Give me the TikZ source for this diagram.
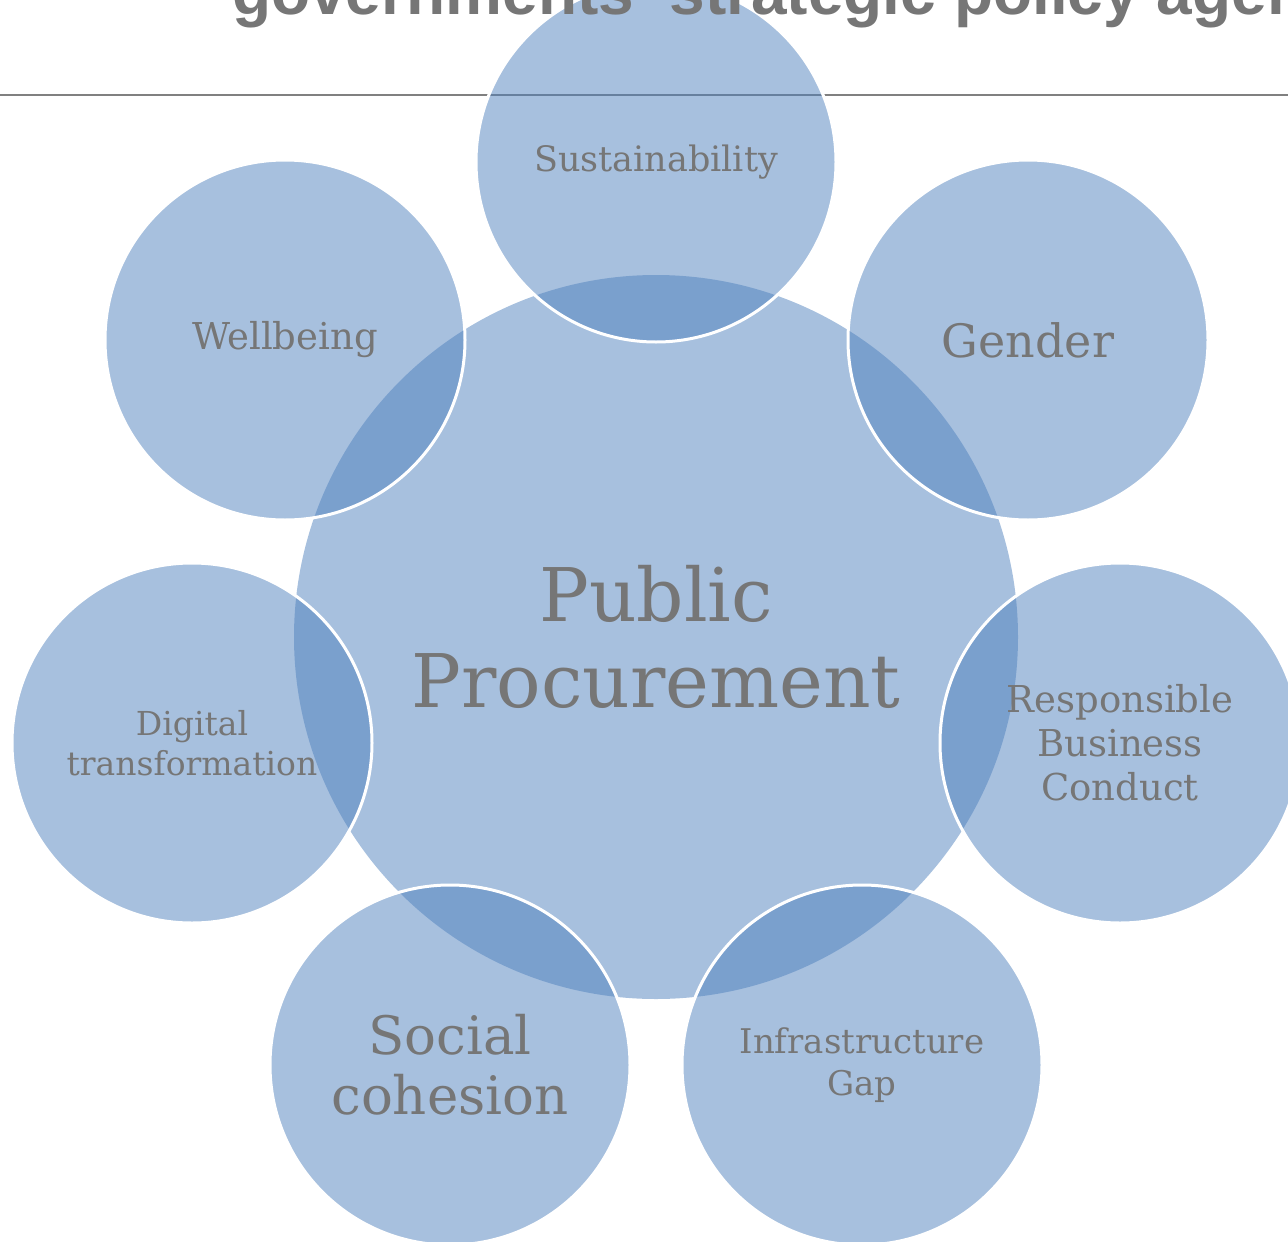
\documentclass[tikz,border=0pt]{standalone}
\usepackage{fontspec}
\setmainfont{DejaVu Serif}
\newfontfamily\titlefont{Liberation Sans}
\definecolor{ppblue}{HTML}{4F81BD}
\definecolor{ppgray}{HTML}{767676}
\definecolor{rulegray}{HTML}{808080}

\tikzset{
  hub/.style={circle,minimum size=724pt,inner sep=0pt,fill=ppblue,fill opacity=.5,
    text opacity=1,text=ppgray,align=center},
  spoke/.style={circle,minimum size=360pt,inner sep=0pt,fill=ppblue,fill opacity=.5,
    draw=white,draw opacity=1,line width=3pt,text opacity=1,text=ppgray,align=center},
  heading/.style={anchor=base west,inner sep=0pt,text=ppgray,
    font=\titlefont\bfseries\fontsize{64}{64}\selectfont}
}

\begin{document}
\begin{tikzpicture}[x=1pt,y=-1pt]
\useasboundingbox (0,0) rectangle (1288,1242);
\clip (0,0) rectangle (1288,1242);
\draw [rulegray,line width=2pt] (0,95) -- (1288,95);
\node[hub,font=\fontsize{74}{86}\selectfont] (hub) at (656,637) {Public\\Procurement};
\node[spoke,font=\fontsize{35}{42}\selectfont] (sust) at (656,162) {Sustainability};
\node[spoke,font=\fontsize{46}{54}\selectfont] (gender) at (1028,340) {Gender};
\node[spoke,font=\fontsize{37}{44}\selectfont] (rbc) at (1120,743) {Responsible\\Business\\Conduct};
\node[spoke,font=\fontsize{34}{42}\selectfont] (infra) at (862,1065) {Infrastructure\\Gap};
\node[spoke,font=\fontsize{53}{60}\selectfont] (social) at (450,1065) {Social\\cohesion};
\node[spoke,font=\fontsize{33}{40}\selectfont] (digital) at (192,743) {Digital\\transformation};
\node[spoke,font=\fontsize{37}{44}\selectfont] (well) at (285,340) {Wellbeing};
\node[heading] (title) at (232,14) {governments’ strategic policy agenda};
\end{tikzpicture}
\end{document}
